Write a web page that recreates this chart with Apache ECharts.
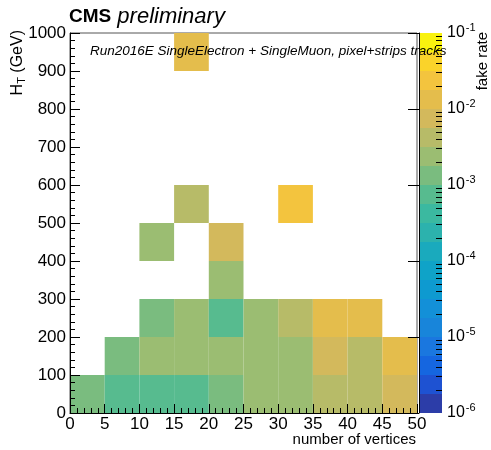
<!DOCTYPE html>
<html>
<head>
<meta charset="utf-8">
<script src="https://cdn.jsdelivr.net/npm/echarts@6/dist/echarts.min.js"></script>
<style>
  html, body { margin: 0; padding: 0; background: #fff; }
  #chart { width: 491px; height: 450px; }
</style>
</head>
<body>
<div id="chart"></div>
<script>
// bin edges: number of vertices (x) and H_T in GeV (y)
const xEdges = [0, 5, 10, 15, 20, 25, 30, 35, 40, 45, 50];
const yEdges = [0, 100, 200, 300, 400, 500, 600, 700, 800, 900, 1000];

// fake rate per H_T row (bottom to top), one value per vertex bin, null = empty bin
const ht0to100 = [1.3e-3, 7.5e-4, 7.5e-4, 7.5e-4, 1.3e-3, 2.4e-3, 2.4e-3, 4.2e-3, 4.2e-3, 7.5e-3];
const ht100to200 = [null, 1.3e-3, 2.4e-3, 2.4e-3, 2.4e-3, 2.4e-3, 2.4e-3, 7.5e-3, 4.2e-3, 1.3e-2];
const ht200to300 = [null, null, 1.3e-3, 2.4e-3, 7.5e-4, 2.4e-3, 4.2e-3, 1.3e-2, 1.3e-2, null];
const ht300to400 = [null, null, null, null, 2.4e-3, null, null, null, null, null];
const ht400to500 = [null, null, 2.4e-3, null, 7.5e-3, null, null, null, null, null];
const ht500to600 = [null, null, null, 4.2e-3, null, null, 2.4e-2, null, null, null];
const ht600to700 = [null, null, null, null, null, null, null, null, null, null];
const ht700to800 = [null, null, null, null, null, null, null, null, null, null];
const ht800to900 = [null, null, null, null, null, null, null, null, null, null];
const ht900to1000 = [null, null, null, 1.3e-2, null, null, null, null, null, null];

const rows = [ht0to100, ht100to200, ht200to300, ht300to400, ht400to500,
              ht500to600, ht600to700, ht700to800, ht800to900, ht900to1000];

// colour scale
const zMin = 1e-6;
const zMax = 1e-1;
const nLevels = 20;
const palette = [
  "#2c3da8", "#1e52d2", "#1566e0", "#1a77df", "#1885da",
  "#1390d8", "#0e9ad0", "#0fa3c8", "#1aaabd", "#2cb2ad",
  "#3bb9a0", "#57bb8f", "#7abc7f", "#9bbd72", "#b7bb68",
  "#d3b95c", "#e4bd4c", "#f3c43e", "#fad32a", "#f9f20f",
];

function levelColor(v) {
  const lo = Math.log10(zMin), hi = Math.log10(zMax);
  let i = Math.floor(((Math.log10(v) - lo) / (hi - lo)) * nLevels);
  return palette[Math.max(0, Math.min(nLevels - 1, i))];
}

// cells: [x0, x1, y0, y1, rate]
const cells = [];
rows.forEach((row, j) => {
  row.forEach((v, i) => {
    if (v == null) return;
    cells.push([xEdges[i], xEdges[i + 1], yEdges[j], yEdges[j + 1], v]);
  });
});

// colour bar levels: [lo, hi, colourIndex]
const levels = [];
const lzMin = Math.log10(zMin), lzMax = Math.log10(zMax);
for (let k = 0; k < nLevels; k++) {
  const a = lzMin + ((lzMax - lzMin) * k) / nLevels;
  const b = lzMin + ((lzMax - lzMin) * (k + 1)) / nLevels;
  levels.push([Math.pow(10, a), Math.pow(10, b), k]);
}

// minor ticks of the log colour axis (2..9 per decade)
const zMinorTicks = [];
for (let e = -6; e < -1; e++) {
  for (let m = 2; m <= 9; m++) zMinorTicks.push(m * Math.pow(10, e));
}

const FONT = "Liberation Sans";
const chart = echarts.init(document.getElementById("chart"));

const option = {
  animation: false,
  textStyle: { fontFamily: FONT, color: "#000" },
  grid: [
    { left: 70, right: 74, top: 33, bottom: 37, show: true, borderColor: "#555", borderWidth: 1, backgroundColor: "#fff" },
    { left: 419, width: 23, top: 33, bottom: 37 },
  ],
  xAxis: [
    {
      type: "value", gridIndex: 0, min: 0, max: 50, interval: 5, z: 10,
      axisLine: { onZero: false, lineStyle: { color: "#000", width: 1 } },
      axisTick: { inside: true, length: 9, lineStyle: { color: "#000" } },
      minorTick: { show: true, splitNumber: 5, length: 5, lineStyle: { color: "#000" } },
      axisLabel: { fontSize: 17, color: "#000", margin: 3, fontFamily: FONT, formatter: (v) => String(v) },
      splitLine: { show: false },
    },
    { type: "value", gridIndex: 1, min: 0, max: 1, show: false },
  ],
  yAxis: [
    {
      type: "value", gridIndex: 0, min: 0, max: 1000, interval: 100, z: 10,
      axisLine: { onZero: false, lineStyle: { color: "#000", width: 1 } },
      axisTick: { inside: true, length: 10, lineStyle: { color: "#000" } },
      minorTick: { show: true, splitNumber: 5, length: 5, lineStyle: { color: "#000" } },
      axisLabel: { fontSize: 17, color: "#000", margin: 4, fontFamily: FONT, formatter: (v) => String(v) },
      splitLine: { show: false },
    },
    {
      type: "log", gridIndex: 1, min: zMin, max: zMax, logBase: 10, position: "right", z: 10,
      axisLine: { show: true, lineStyle: { color: "#000", width: 1 } },
      axisTick: { inside: true, length: 11, lineStyle: { color: "#000" } },
      axisLabel: {
        margin: 5,
        formatter: (v) => {
          const e = Math.round(Math.log10(v));
          return "{b|10}{s|" + e + "}";
        },
        rich: {
          b: { fontSize: 16, fontFamily: FONT, color: "#000" },
          s: { fontSize: 11, fontFamily: FONT, color: "#000", padding: [0, 0, 11, 1] },
        },
      },
      splitLine: { show: false },
    },
    {
      type: "log", gridIndex: 1, min: zMin, max: zMax, logBase: 10, position: "right", z: 10,
      axisLine: { show: false },
      axisTick: { inside: true, length: 6, customValues: zMinorTicks, lineStyle: { color: "#000" } },
      axisLabel: { show: false },
      splitLine: { show: false },
    },
  ],
  series: [
    {
      type: "custom",
      xAxisIndex: 0,
      yAxisIndex: 0,
      data: cells,
      encode: { x: [0, 1], y: [2, 3] },
      renderItem: (params, api) => {
        const p0 = api.coord([api.value(0), api.value(2)]);
        const p1 = api.coord([api.value(1), api.value(3)]);
        return {
          type: "rect",
          shape: { x: p0[0], y: p1[1], width: p1[0] - p0[0], height: p0[1] - p1[1] },
          style: { fill: levelColor(api.value(4)) },
        };
      },
    },
    {
      type: "custom",
      xAxisIndex: 1,
      yAxisIndex: 1,
      data: levels,
      encode: { y: [0, 1] },
      renderItem: (params, api) => {
        const p0 = api.coord([0, api.value(0)]);
        const p1 = api.coord([1, api.value(1)]);
        return {
          type: "rect",
          shape: { x: p0[0], y: p1[1], width: p1[0] - p0[0], height: p0[1] - p1[1] },
          style: { fill: palette[api.value(2)] },
        };
      },
    },
  ],
  graphic: [
    {
      type: "text", left: 69, top: 6, z: 100,
      style: {
        text: "{c|CMS}{p| preliminary}",
        rich: {
          c: { font: "bold 19px " + FONT, fill: "#000" },
          p: { font: "italic 22px " + FONT, fill: "#000" },
        },
      },
    },
    {
      type: "text", left: 90, top: 44, z: 100,
      style: { text: "Run2016E SingleElectron + SingleMuon, pixel+strips tracks", font: "italic 13.5px " + FONT, fill: "#000" },
    },
    {
      type: "text", x: 18, y: 30, rotation: Math.PI / 2, z: 100,
      style: {
        text: "{a|H}{t|T}{a| (GeV)}",
        align: "right", verticalAlign: "middle",
        rich: {
          a: { font: "16px " + FONT, fill: "#000" },
          t: { font: "11px " + FONT, fill: "#000", padding: [7, 0, 0, 0] },
        },
      },
    },
    {
      type: "text", x: 416, y: 440, z: 100,
      style: { text: "number of vertices", font: "15px " + FONT, fill: "#000", align: "right", verticalAlign: "middle" },
    },
    {
      type: "text", x: 483, y: 32, rotation: Math.PI / 2, z: 100,
      style: { text: "fake rate", font: "15px " + FONT, fill: "#000", align: "right", verticalAlign: "middle" },
    },
  ],
};

chart.setOption(option);
</script>
</body>
</html>
